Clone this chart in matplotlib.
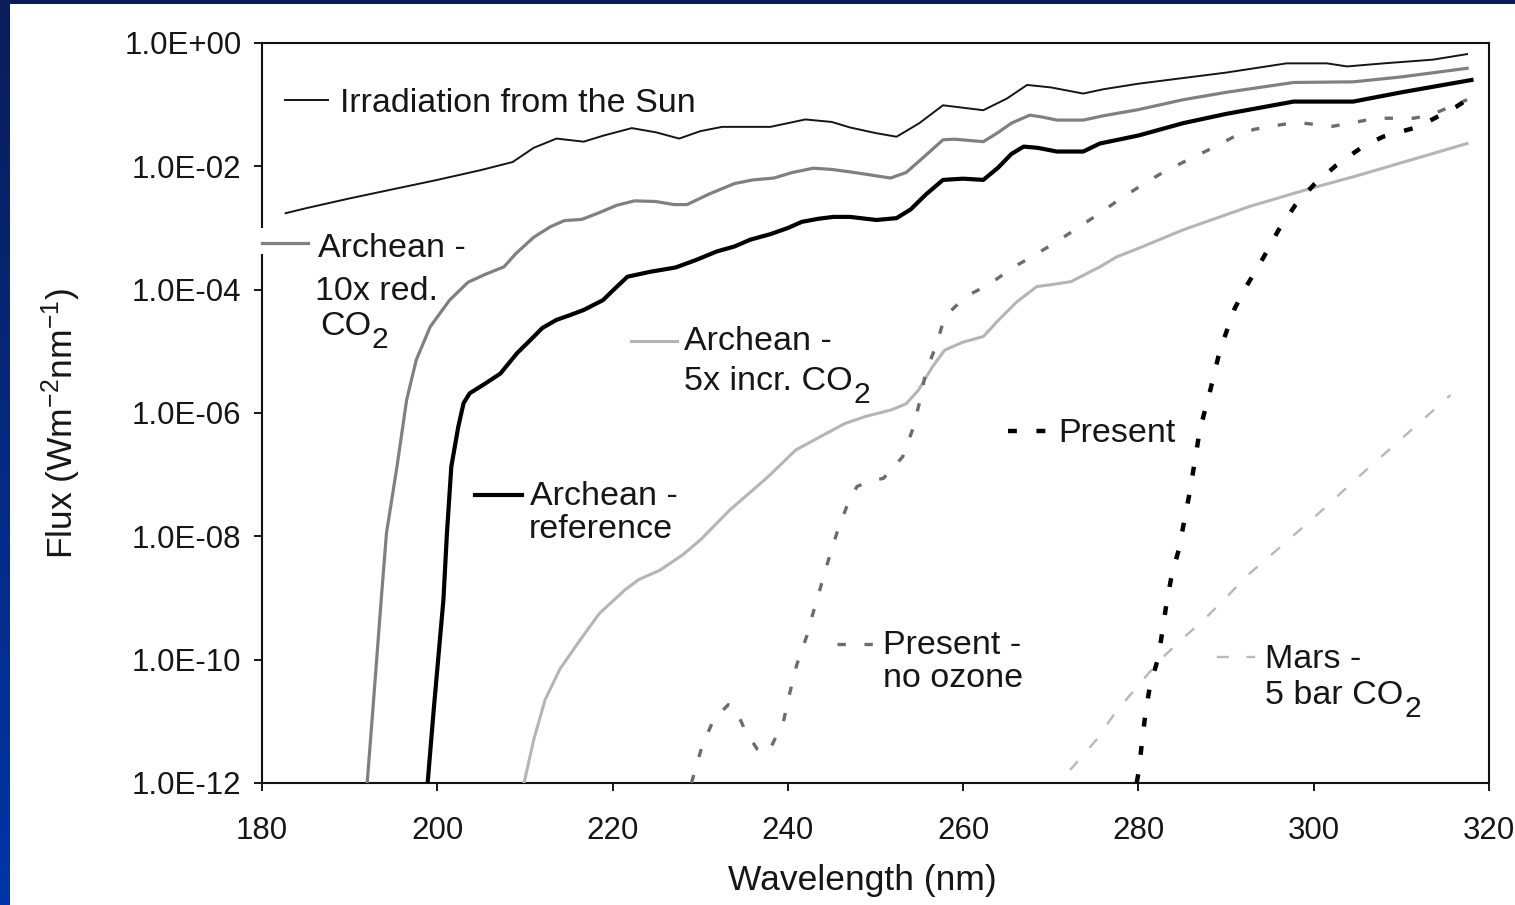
import numpy as np
import matplotlib
matplotlib.use("Agg")
import matplotlib.pyplot as plt
from matplotlib.patches import Rectangle
from matplotlib.colors import LinearSegmentedColormap
from matplotlib.ticker import FixedLocator, FuncFormatter

plt.rcParams['font.family'] = ['Liberation Sans', 'DejaVu Sans']
plt.rcParams['mathtext.fontset'] = 'custom'
plt.rcParams['mathtext.rm'] = 'Liberation Sans'
plt.rcParams['mathtext.it'] = 'Liberation Sans:italic'
plt.rcParams['mathtext.bf'] = 'Liberation Sans:bold'

# ---- spectra: wavelength (nm) and log10 of flux (W m^-2 nm^-1) ----
sun_wl = [182.7, 185, 190, 195, 200, 205, 208.6, 211, 213.6, 216.7, 219, 222.2,
          225, 227.6, 230, 232.5, 238, 242, 245, 247.1, 250, 252.4, 255, 257.7,
          260, 262.3, 265, 267.3, 270, 273.7, 276, 280, 285, 290, 296.9, 301.5,
          303.8, 308, 313.6, 317.5]
sun_logf = [-2.76, -2.68, -2.52, -2.37, -2.22, -2.06, -1.93, -1.70, -1.55, -1.60,
            -1.50, -1.38, -1.45, -1.55, -1.43, -1.36, -1.36, -1.24, -1.28, -1.37,
            -1.46, -1.52, -1.30, -1.01, -1.05, -1.09, -0.90, -0.68, -0.72, -0.82,
            -0.75, -0.66, -0.57, -0.48, -0.33, -0.33, -0.38, -0.33, -0.27, -0.18]

red_wl = [192.0, 192.6, 193.6, 194.2, 195.4, 196.5, 197.6, 199.2, 201.4, 203.5,
          205.5, 207.6, 209, 211, 212.9, 214.5, 216.5, 218.5, 220.5, 222.5, 224.9,
          227, 228.5, 231, 233.9, 236, 238.4, 240.5, 242.9, 245, 247.1, 249, 251.7,
          253.5, 255.5, 257.7, 259, 262.3, 264, 265.5, 267.6, 269, 270.7, 273.7,
          276, 280, 285.1, 290, 297.7, 304.5, 310, 317.5]
red_logf = [-12.0, -10.9, -9.03, -7.95, -6.87, -5.79, -5.14, -4.60, -4.17, -3.88,
            -3.75, -3.63, -3.41, -3.15, -2.98, -2.88, -2.86, -2.75, -2.63, -2.56,
            -2.57, -2.62, -2.62, -2.45, -2.28, -2.22, -2.19, -2.10, -2.03, -2.05,
            -2.09, -2.13, -2.19, -2.10, -1.85, -1.57, -1.56, -1.60, -1.45, -1.30,
            -1.17, -1.20, -1.25, -1.25, -1.18, -1.08, -0.92, -0.80, -0.64, -0.63,
            -0.55, -0.41]

ref_wl = [198.9, 199.6, 200.7, 201.1, 201.6, 202.4, 203.0, 203.7, 205.5, 207.2,
          209.1, 210.6, 212, 213.6, 215, 216.7, 218.9, 220.5, 221.7, 224.3, 227.2,
          229.5, 231.9, 233.9, 235.7, 238, 240, 241.6, 243.5, 245.2, 247.1, 250.1,
          252.4, 254, 255.8, 257.7, 260, 262.3, 264, 265.5, 266.9, 268.5, 270.7,
          273.7, 275.6, 280, 285.1, 290, 297.7, 304.5, 310, 318]
ref_logf = [-12.0, -10.8, -9.03, -7.95, -6.87, -6.22, -5.84, -5.68, -5.52, -5.36,
            -5.03, -4.82, -4.62, -4.49, -4.42, -4.33, -4.17, -3.95, -3.79, -3.71,
            -3.64, -3.52, -3.38, -3.30, -3.19, -3.10, -3.00, -2.90, -2.85, -2.82,
            -2.82, -2.87, -2.84, -2.70, -2.45, -2.22, -2.20, -2.22, -2.02, -1.80,
            -1.68, -1.70, -1.76, -1.76, -1.63, -1.50, -1.30, -1.15, -0.95, -0.95,
            -0.80, -0.60]

inc_wl = [209.9, 211, 212.3, 214, 216.3, 218.5, 221.4, 223, 225.4, 228, 230,
          233.4, 236, 238, 240.9, 243.5, 246.5, 249, 251.8, 253.5, 254.9, 256.5,
          257.9, 260, 262.3, 264, 266.1, 268.4, 270, 272.3, 275.6, 277.5, 280,
          285.1, 292.7, 299.6, 305, 311, 317.5]
inc_logf = [-12.0, -11.3, -10.65, -10.15, -9.68, -9.25, -8.87, -8.70, -8.55, -8.30,
            -8.06, -7.57, -7.25, -7.00, -6.60, -6.40, -6.17, -6.05, -5.95, -5.85,
            -5.63, -5.25, -4.98, -4.85, -4.76, -4.50, -4.20, -3.95, -3.92, -3.87,
            -3.63, -3.47, -3.33, -3.03, -2.65, -2.36, -2.15, -1.90, -1.63]

noo3_wl = [229.0, 229.5, 230.2, 231.5, 233.2, 234.0, 235.1, 236.5, 237.4, 238.0,
           239.5, 240.2, 241.0, 242.2, 242.7, 243.7, 244.8, 245.7, 247.0, 247.9,
           249.5, 250.9, 253.1, 254.2, 255.1, 255.7, 257.0, 257.9, 260.3, 262.9,
           265.8, 267.8, 270.7, 275.6, 278, 281, 282.9, 286, 287.9, 290.9, 293.2,
           296.5, 298.1, 302.2, 307.2, 311.4, 313.3, 316.5, 317.5]
noo3_logf = [-12.0, -11.75, -11.41, -10.98, -10.73, -10.79, -11.14, -11.45, -11.52,
             -11.44, -11.00, -10.55, -10.09, -9.60, -9.33, -8.84, -8.30, -7.90,
             -7.41, -7.19, -7.10, -7.06, -6.71, -6.28, -5.79, -5.36, -4.87, -4.44,
             -4.11, -3.92, -3.63, -3.47, -3.22, -2.76, -2.52, -2.25, -2.09, -1.87,
             -1.74, -1.52, -1.40, -1.32, -1.29, -1.35, -1.22, -1.22, -1.17, -0.98,
             -0.92]

now_wl = [279.8, 280.0, 280.4, 280.8, 281.3, 282.3, 282.7, 283.2, 283.8, 284.6,
          285.9, 287.0, 288.2, 289.3, 291.0, 292.3, 294.3, 296.0, 297.9, 300.0,
          302.6, 305.6, 307.9, 311.4, 313.0, 316.3, 317.5]
now_logf = [-12.0, -11.84, -11.35, -10.87, -10.44, -9.95, -9.57, -9.09, -8.63, -8.22,
            -7.25, -6.28, -5.63, -4.98, -4.30, -3.95, -3.47, -3.03, -2.63, -2.30,
            -1.98, -1.68, -1.52, -1.38, -1.28, -1.03, -0.92]

mars_wl = [272.2, 275.2, 277.3, 280.2, 282.5, 285.1, 287.4, 290.1, 292.3, 295.4,
           300, 305, 310, 315.6]
mars_logf = [-11.79, -11.30, -10.87, -10.38, -10.00, -9.65, -9.36, -8.98, -8.65,
             -8.27, -7.70, -7.05, -6.42, -5.71]

x_ticks = [180, 200, 220, 240, 260, 280, 300, 320]
y_tick_exponents = [0, -2, -4, -6, -8, -10, -12]

# ---- styles ----
TEXT = '#161616'
sun_style = dict(color='#151515', lw=1.4, ls='-')
red_style = dict(color='#808080', lw=2.3, ls='-')
ref_style = dict(color='#000000', lw=3.0, ls='-')
inc_style = dict(color='#b5b5b5', lw=2.2, ls='-')
noo3_style = dict(color='#6c6c6c', lw=2.4, ls=(0, (2.5, 5.6)))
now_style = dict(color='#000000', lw=3.2, ls=(0, (2.0, 4.4)))
mars_style = dict(color='#b8b8b8', lw=1.7, ls=(0, (5.0, 7.5)))

W, H = 1515, 905
fig = plt.figure(figsize=(W / 100, H / 100), dpi=100)

# blue slide frame behind a white page
bg = fig.add_axes([0, 0, 1, 1], zorder=-10)
frame_cmap = LinearSegmentedColormap.from_list('frame', ['#0a1d58', '#0036a8'])
bg.imshow(np.linspace(0, 1, 256).reshape(-1, 1), aspect='auto', cmap=frame_cmap,
          extent=[0, 1, 0, 1], origin='upper')
bg.add_patch(Rectangle((10 / W, 0), 1 - 10 / W, 1 - 4 / H, facecolor='white',
                       edgecolor='none'))
bg.set_xlim(0, 1)
bg.set_ylim(0, 1)
bg.axis('off')

ax = fig.add_axes([262 / W, 1 - 783 / H, (1489 - 262) / W, (783 - 43) / H])
ax.set_facecolor('none')


def pw(v):
    return 10.0 ** np.asarray(v, dtype=float)


ax.plot(sun_wl, pw(sun_logf), **sun_style, zorder=4)
ax.plot(red_wl, pw(red_logf), **red_style, zorder=4)
ax.plot(ref_wl, pw(ref_logf), **ref_style, zorder=5)
ax.plot(inc_wl, pw(inc_logf), **inc_style, zorder=3)
ax.plot(noo3_wl, pw(noo3_logf), **noo3_style, zorder=3)
ax.plot(now_wl, pw(now_logf), **now_style, zorder=4)
ax.plot(mars_wl, pw(mars_logf), **mars_style, zorder=3)

ax.set_yscale('log')
ax.set_xlim(180, 320)
ax.set_ylim(1e-12, 1)

ax.xaxis.set_major_locator(FixedLocator(x_ticks))
ax.yaxis.set_major_locator(FixedLocator([10.0 ** e for e in y_tick_exponents]))
ax.yaxis.set_minor_locator(FixedLocator([]))
ax.yaxis.set_major_formatter(FuncFormatter(
    lambda v, pos: "1.0E{:+03d}".format(int(round(np.log10(v))))))
ax.tick_params(axis='both', which='major', direction='out', length=5.8, width=1.4,
               labelsize=22.5, colors=TEXT, top=False, right=False)
ax.tick_params(axis='y', pad=9)
ax.tick_params(axis='x', pad=18)
for s in ax.spines.values():
    s.set_linewidth(1.5)
    s.set_color('#111111')

# in-plot labels with their key marks
FS = 24.5


def key(x0, x1, logy, style, z=6):
    ax.plot([x0, x1], [10 ** logy, 10 ** logy], clip_on=False, zorder=z, **style)


def label(x, logy, s, sub=None):
    t = ax.text(x, 10 ** logy, s, fontsize=FS, color=TEXT, ha='left',
                va='baseline', zorder=7)
    if sub:
        # subscript drawn as a lowered, slightly smaller character
        ax.annotate(sub, xy=(1, 0), xycoords=t, xytext=(0.5, -8.8),
                    textcoords='offset points', fontsize=FS * 0.88, color=TEXT,
                    ha='left', va='bottom', zorder=7)
    return t


key(182.6, 187.5, -0.93, sun_style)
label(188.9, -1.119, 'Irradiation from the Sun')

# the first label line sits over the y axis, masking it
ax.add_patch(Rectangle((179.2, 10 ** -3.42), 2.5, 10 ** -3.0 - 10 ** -3.42,
                       facecolor='white', edgecolor='none', clip_on=False,
                       zorder=5.5))
key(180.0, 185.2, -3.24, red_style)
label(186.43, -3.47, 'Archean -')
label(186.05, -4.17, '10x red.')
label(186.6, -4.73, 'CO', sub='2')

key(222.1, 227.3, -4.84, inc_style)
label(228.2, -4.98, 'Archean -')
label(228.2, -5.63, '5x incr. CO', sub='2')

key(204.3, 209.65, -7.33, ref_style)
label(210.58, -7.49, 'Archean -')
label(210.39, -8.03, 'reference')

key(265.1, 269.45, -6.30, now_style)
label(270.8, -6.465, 'Present')

key(245.57, 249.95, -9.745, noo3_style)
label(250.9, -9.90, 'Present -')
label(250.9, -10.45, 'no ozone')

key(288.93, 293.3, -9.95, mars_style)
label(294.45, -10.14, 'Mars -')
label(294.45, -10.72, '5 bar CO', sub='2')

fig.text(862 / W, 1 - 890 / H, 'Wavelength (nm)', fontsize=25.5, color=TEXT,
         ha='center', va='baseline')
fig.text(61 / W, 1 - 423 / H, 'Flux (Wm$^{-2}$nm$^{-1}$)', fontsize=25.5,
         color=TEXT, ha='center', va='center', rotation=90)

fig.savefig('out.png', dpi=100)
